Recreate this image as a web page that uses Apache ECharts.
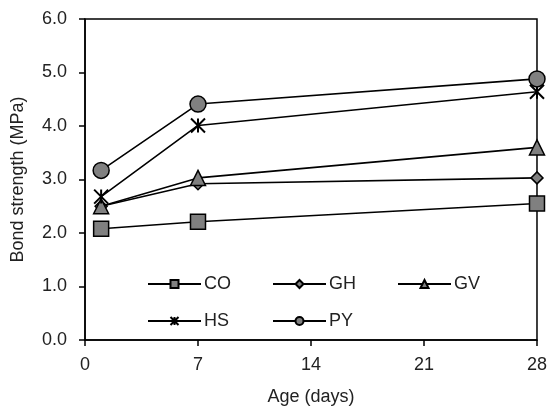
<!DOCTYPE html>
<html>
<head>
<meta charset="utf-8">
<script src="https://cdn.jsdelivr.net/npm/echarts@6/dist/echarts.min.js"></script>
<style>
  html, body { margin: 0; padding: 0; background: #fff; }
  #chart { width: 550px; height: 412px; }
</style>
</head>
<body>
<div id="chart"></div>
<script>
// age in days
var ages = [1, 7, 28];
// bond strength (MPa)
var CO = [2.08, 2.21, 2.55];
var GH = [2.50, 2.92, 3.03];
var GV = [2.50, 3.03, 3.60];
var HS = [2.68, 4.01, 4.64];
var PY = [3.17, 4.41, 4.88];
var names = ['CO', 'GH', 'GV', 'HS', 'PY'];

var starPath = 'path://M0,0L10,10M10,0L0,10M5,0L5,10';
var symbols = ['rect', 'diamond', 'triangle', starPath, 'circle'];
var sizes = [15, 12, 15, 14, 16];
var values = [CO, GH, GV, HS, PY];

var font = 'Liberation Sans, Arial, sans-serif';

var series = names.map(function (n, i) {
  return {
    name: n,
    type: 'line',
    data: ages.map(function (a, j) { return [a, values[i][j]]; }),
    symbol: symbols[i],
    symbolSize: sizes[i],
    lineStyle: { color: '#000', width: 1.6 },
    itemStyle: {
      color: i === 3 ? '#000' : '#808080',
      borderColor: '#000',
      borderWidth: i === 3 ? 2 : 1.5
    },
    z: 2 + i
  };
});

// legend positions (2 rows, 3 columns)
var legendPos = [[147, 275], [272, 275], [397, 275], [147, 312], [272, 312]];
var legends = names.map(function (n, i) {
  return {
    data: [n],
    left: legendPos[i][0],
    top: legendPos[i][1],
    itemWidth: 53,
    itemHeight: 10,
    itemGap: 0,
    padding: 0,
    selectedMode: false,
    textStyle: { fontSize: 18, color: '#222', fontFamily: font, padding: [0, 0, 0, -2] }
  };
});

var myChart = echarts.init(document.getElementById('chart'));
var option = {
  animation: false,
  legend: legends,
  grid: {
    left: 85, right: 13, top: 19, bottom: 72,
    show: true, borderColor: '#000', borderWidth: 1.5
  },
  xAxis: {
    type: 'value',
    min: 0, max: 28, interval: 7,
    name: 'Age (days)',
    nameLocation: 'middle',
    nameGap: 48,
    nameTextStyle: { fontSize: 18, color: '#222', fontFamily: font },
    axisLine: { lineStyle: { color: '#000', width: 1.5 } },
    axisTick: { inside: false, length: 6, lineStyle: { color: '#000', width: 1.5 } },
    axisLabel: { fontSize: 18, color: '#222', fontFamily: font, margin: 16 },
    splitLine: { show: false }
  },
  yAxis: {
    type: 'value',
    min: 0, max: 6, interval: 1,
    name: 'Bond strength (MPa)',
    nameLocation: 'middle',
    nameGap: 58,
    nameTextStyle: { fontSize: 18, color: '#222', fontFamily: font },
    axisLine: { show: true, lineStyle: { color: '#000', width: 1.5 } },
    axisTick: { show: true, inside: false, length: 6, lineStyle: { color: '#000', width: 1.5 } },
    axisLabel: {
      fontSize: 18, color: '#222', fontFamily: font, margin: 18,
      formatter: function (v) { return v.toFixed(1); }
    },
    splitLine: { show: false }
  },
  series: series
};
myChart.setOption(option);
</script>
</body>
</html>
